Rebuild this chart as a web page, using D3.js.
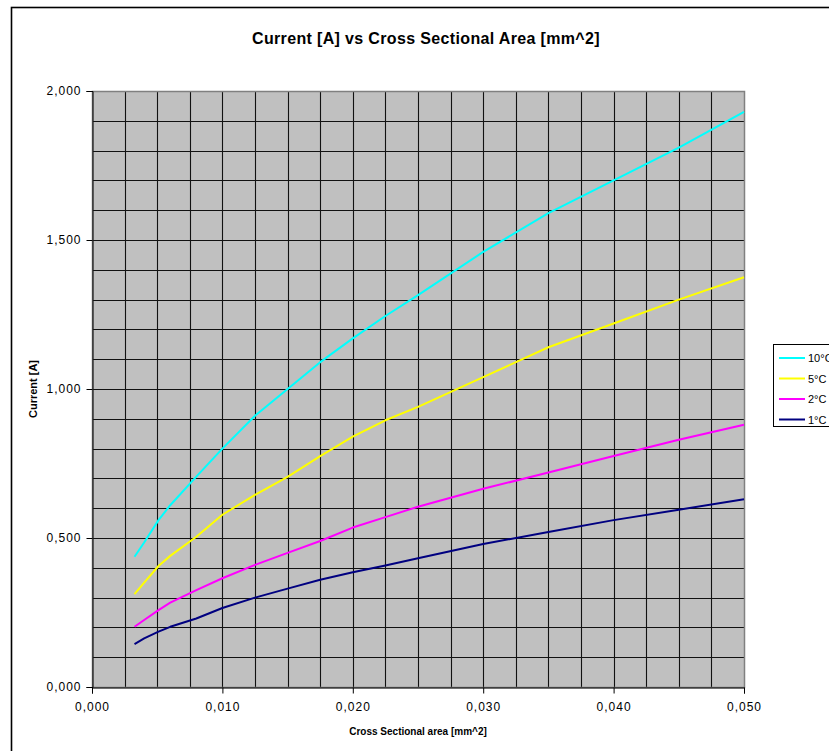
<!DOCTYPE html>
<html>
<head>
<meta charset="utf-8">
<script src="https://cdn.jsdelivr.net/npm/d3@7"></script>
<style>
  html, body { margin: 0; padding: 0; background: #fff; }
  svg { display: block; font-family: "Liberation Sans", Arial, sans-serif; }
</style>
</head>
<body>
<svg id="chart" width="829" height="751"></svg>
<script>
// Cross sectional area [mm^2]
const areas = [0.00326, 0.0040, 0.0051, 0.0060, 0.0080, 0.0100, 0.0125, 0.0150, 0.0175,
               0.0200, 0.0225, 0.0250, 0.0300, 0.0350, 0.0400, 0.0450, 0.0500];
// Current [A] for each temperature rise
const current10C = [0.437, 0.485, 0.560, 0.610, 0.706, 0.800, 0.910, 1.000, 1.090,
                    1.170, 1.245, 1.315, 1.460, 1.590, 1.700, 1.810, 1.930];
const current5C  = [0.312, 0.350, 0.406, 0.440, 0.504, 0.578, 0.645, 0.705, 0.775,
                    0.840, 0.895, 0.940, 1.040, 1.140, 1.220, 1.300, 1.375];
const current2C  = [0.202, 0.225, 0.258, 0.283, 0.325, 0.365, 0.410, 0.450, 0.490,
                    0.535, 0.570, 0.605, 0.665, 0.720, 0.775, 0.830, 0.880];
const current1C  = [0.144, 0.163, 0.186, 0.202, 0.230, 0.265, 0.300, 0.330, 0.360,
                    0.385, 0.408, 0.432, 0.480, 0.520, 0.560, 0.595, 0.630];

const seriesNames  = ["10°C", "5°C", "2°C", "1°C"];
const seriesValues = [current10C, current5C, current2C, current1C];
const seriesColors = ["#00ffff", "#ffff00", "#ff00ff", "#000080"];

const xTicks = [0, 0.01, 0.02, 0.03, 0.04, 0.05];
const yTicks = [0, 0.5, 1.0, 1.5, 2.0];

const svg = d3.select("#chart");
const plot = { left: 92, top: 91, right: 744, bottom: 687 };

const x = d3.scaleLinear().domain([0, 0.05]).range([plot.left, plot.right]);
const y = d3.scaleLinear().domain([0, 2]).range([plot.bottom, plot.top]);

const locale = d3.formatLocale({ decimal: ",", thousands: ".", grouping: [3], currency: ["", ""] });
const fmt = locale.format(".3f");

// outer chart frame
svg.append("rect")
  .attr("x", 11.5).attr("y", 7.5).attr("width", 840).attr("height", 760)
  .attr("fill", "#fff").attr("stroke", "#000").attr("stroke-width", 1.6);

// plot area
svg.append("rect")
  .attr("x", plot.left).attr("y", plot.top)
  .attr("width", plot.right - plot.left).attr("height", plot.bottom - plot.top)
  .attr("fill", "#c0c0c0");

// grid
const grid = svg.append("g").attr("stroke", "#111").attr("stroke-width", 1.1);
d3.range(1, 20).forEach(i => {
  const gx = Math.round(x(i * 0.0025)) + 0.5;
  grid.append("line").attr("x1", gx).attr("x2", gx).attr("y1", plot.top).attr("y2", plot.bottom);
  const gy = Math.round(y(i * 0.1)) + 0.5;
  grid.append("line").attr("x1", plot.left).attr("x2", plot.right).attr("y1", gy).attr("y2", gy);
});

svg.append("rect")
  .attr("x", plot.left + 0.5).attr("y", plot.top + 0.5)
  .attr("width", plot.right - plot.left).attr("height", plot.bottom - plot.top)
  .attr("fill", "none").attr("stroke", "#808080").attr("stroke-width", 1.5);

// axes
const xAxis = svg.append("g")
  .attr("transform", `translate(0,${plot.bottom + 0.5})`)
  .call(d3.axisBottom(x).tickValues(xTicks).tickFormat(fmt).tickSize(6).tickPadding(9));
const yAxis = svg.append("g")
  .attr("transform", `translate(${plot.left + 0.5},0)`)
  .call(d3.axisLeft(y).tickValues(yTicks).tickFormat(fmt).tickSize(6).tickPadding(5));
[xAxis, yAxis].forEach(a => {
  a.select(".domain").attr("stroke", "#000");
  a.selectAll(".tick line").attr("stroke", "#000");
  a.selectAll(".tick text").attr("fill", "#000")
    .style("font-size", "12px").style("letter-spacing", "1px")
    .style("font-family", "Liberation Sans, Arial, sans-serif");
});

// series lines
const line = d3.line().x((d, i) => x(areas[i])).y(d => y(d));
seriesValues.forEach((vals, k) => {
  svg.append("path").datum(vals)
    .attr("d", line)
    .attr("fill", "none")
    .attr("stroke", seriesColors[k])
    .attr("stroke-width", 2)
    .attr("stroke-linejoin", "round");
});

// titles
svg.append("text")
  .attr("x", 426).attr("y", 44).attr("text-anchor", "middle")
  .style("font-size", "16px").style("font-weight", "bold").style("letter-spacing", "0.35px")
  .text("Current [A] vs Cross Sectional Area [mm^2]");
svg.append("text")
  .attr("x", 418).attr("y", 735).attr("text-anchor", "middle")
  .style("font-size", "10px").style("font-weight", "bold")
  .text("Cross Sectional area [mm^2]");
svg.append("text")
  .attr("transform", "translate(37,389) rotate(-90)").attr("text-anchor", "middle")
  .style("font-size", "11px").style("font-weight", "bold")
  .text("Current [A]");

// legend (box runs past the right edge of the chart frame)
const lg = svg.append("g");
lg.append("rect")
  .attr("x", 773.5).attr("y", 344.5).attr("width", 70).attr("height", 82)
  .attr("fill", "#fff").attr("stroke", "#000").attr("stroke-width", 1);
seriesNames.forEach((name, k) => {
  const ly = 358 + k * 20.5;
  lg.append("line")
    .attr("x1", 779).attr("x2", 805).attr("y1", ly).attr("y2", ly)
    .attr("stroke", seriesColors[k]).attr("stroke-width", 2);
  lg.append("text")
    .attr("x", 808).attr("y", ly + 4)
    .style("font-size", "11px")
    .text(name);
});
</script>
</body>
</html>
